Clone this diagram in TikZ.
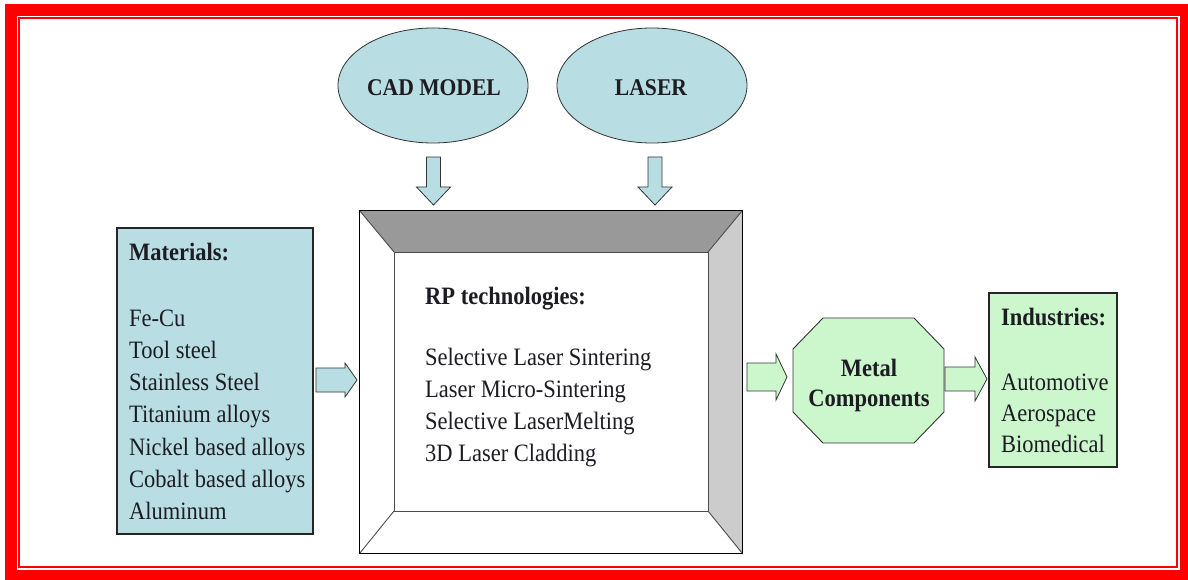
\documentclass[tikz,border=0pt]{standalone}
\usepackage{fontspec}
\setmainfont{Liberation Serif}[FakeStretch=0.9]
\usetikzlibrary{shapes.geometric}

\definecolor{frame}{RGB}{255,0,0}
\definecolor{paleblue}{RGB}{184,222,228}
\definecolor{palegreen}{RGB}{204,246,204}
\definecolor{bevelTop}{RGB}{153,153,153}
\definecolor{bevelSide}{RGB}{204,204,204}
\definecolor{ink}{RGB}{28,28,34}

\newcommand\bodyfont{\fontsize{25}{32}\selectfont}
\newcommand\headfont{\fontsize{25}{32}\selectfont\bfseries}
\newcommand\ovalfont{\fontsize{24}{30}\selectfont\bfseries}

% horizontal block arrow: style, start x, centre y, tip x, shaft half, head half, head length
\newcommand\hblock[7]{%
  \draw[#1] (#2,#3-#5) -- (#4-#7,#3-#5) -- (#4-#7,#3-#6) -- (#4,#3)
    -- (#4-#7,#3+#6) -- (#4-#7,#3+#5) -- (#2,#3+#5) -- cycle;}
% vertical block arrow: style, centre x, start y, tip y, shaft half, head half, head length
\newcommand\vblock[7]{%
  \draw[#1] (#2-#5,#3) -- (#2-#5,#4-#7) -- (#2-#6,#4-#7) -- (#2,#4)
    -- (#2+#6,#4-#7) -- (#2+#5,#4-#7) -- (#2+#5,#3) -- cycle;}

\tikzset{
  txt/.style={anchor=base west, inner sep=0pt, text=ink, font=\bodyfont},
  head/.style={anchor=base west, inner sep=0pt, text=ink, font=\headfont},
  oval/.style={ellipse, draw=black!80, line width=0.8pt, fill=paleblue,
    minimum width=190pt, minimum height=115pt, inner sep=0pt,
    text=ink, font=\ovalfont},
  listbox/.style={rectangle, draw=black!85, line width=1.1pt, inner sep=0pt},
  bluearrow/.style={draw=black!80, line width=0.8pt, fill=paleblue, line join=miter},
  greenarrow/.style={draw=black!80, line width=0.8pt, fill=palegreen, line join=miter},
  bevelline/.style={draw=black!70, line width=0.9pt},
}

\begin{document}
\begin{tikzpicture}[x=1pt,y=-1pt]
\useasboundingbox (0,0) rectangle (1188,580);

% double red frame
\fill[frame] (5,4) rectangle (1188,580);
\fill[white] (17,16) rectangle (1180,570);
\draw[frame, line width=2.3pt] (18.9,17.9) rectangle (1177.2,567.2);

% input ovals
\node[oval] (cad) at (433,85.5) {};
\node[anchor=base, inner sep=0pt, text=ink, font=\ovalfont] (cadtxt) at (434,96) {CAD MODEL};
\node[oval] (laser) at (652,85.5) {};
\node[anchor=base, inner sep=0pt, text=ink, font=\ovalfont] (lasertxt) at (651,96) {LASER};

% materials list
\node[listbox, fill=paleblue, minimum width=196pt, minimum height=306pt] (mat) at (215,381) {};
\node[head] (mathead) at (129,260) {Materials:};
\foreach \t [count=\i from 0] in {Fe-Cu, Tool steel, Stainless Steel, Titanium alloys,
    Nickel based alloys, Cobalt based alloys, Aluminum}
  \node[txt] (mat\i) at (129,326+32.3*\i) {\t};

% bevelled process frame
\node[rectangle, minimum width=382pt, minimum height=342pt, inner sep=0pt] (rp) at (551,382) {};
\coordinate (inNW) at (394,252);
\coordinate (inNE) at (708,252);
\coordinate (inSE) at (708,511);
\coordinate (inSW) at (394,511);
\fill[bevelTop] (rp.north west) -- (rp.north east) -- (inNE) -- (inNW) -- cycle;
\fill[bevelSide] (rp.north east) -- (rp.south east) -- (inSE) -- (inNE) -- cycle;
\draw[bevelline] (inNW) rectangle (inSE);
\draw[bevelline] (rp.north west) -- (inNW) (rp.north east) -- (inNE)
  (rp.south east) -- (inSE) (rp.south west) -- (inSW);
\draw[black, line width=1.2pt] (rp.north west) rectangle (rp.south east);

\node[head] (rphead) at (425,304) {RP technologies:};
\foreach \t [count=\i from 0] in {Selective Laser Sintering, Laser Micro-Sintering,
    Selective LaserMelting, 3D Laser Cladding}
  \node[txt] (rp\i) at (425,365+32*\i) {\t};

% output octagon
\node[rectangle, minimum width=151pt, minimum height=125pt, inner sep=0pt] (metal) at (868.5,380.5) {};
\draw[draw=black!80, line width=0.9pt, fill=palegreen]
  (823,318) -- (914,318) -- (944,349) -- (944,412) -- (914,443) -- (823,443)
  -- (793,412) -- (793,349) -- cycle;
\node[anchor=base, inner sep=0pt, text=ink, font=\headfont] (metal1) at (869,376) {Metal};
\node[anchor=base, inner sep=0pt, text=ink, font=\headfont] (metal2) at (869,406) {Components};

% industries list
\node[listbox, fill=palegreen, minimum width=128pt, minimum height=174pt] (ind) at (1053,380) {};
\node[head] (indhead) at (1001,325) {Industries:};
\foreach \t [count=\i from 0] in {Automotive, Aerospace, Biomedical}
  \node[txt] (ind\i) at (1001,390.5+31*\i) {\t};

% block arrows
\vblock{bluearrow}{433.5}{157}{205}{7}{17}{18}
\vblock{bluearrow}{655}{157}{205}{7}{17}{18}
\hblock{bluearrow}{316}{380}{357}{12}{17}{12}
\hblock{greenarrow}{747}{377}{787}{14}{23}{11}
\hblock{greenarrow}{945}{379}{987}{12}{22}{12}
\end{tikzpicture}
\end{document}
